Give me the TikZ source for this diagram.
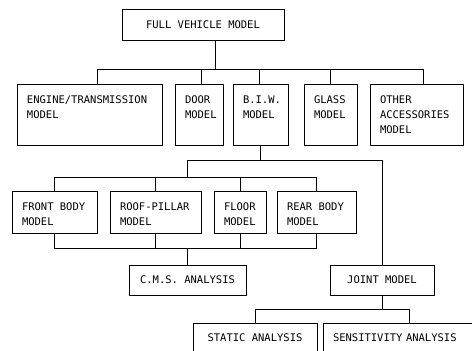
\documentclass[tikz,border=0pt]{standalone}
\usepackage{fontspec}
\newfontfamily\plotfont{DejaVu Sans Mono}
\usepackage{tikz}
\tikzstyle{block} = [
    rectangle,
    draw,
    line width=0.7pt,
    inner xsep=10pt,
    inner ysep=0pt,
    font=\plotfont\fontsize{10.5}{15}\selectfont,
]
\tikzstyle{title} = [
    block,
    inner xsep=0pt,
    align=center,
]
\tikzstyle{part} = [
    block,
]
\tikzstyle{link} = [line width=0.7pt, line cap=rect]
% text set from the top left corner of a part box
\newcommand{\partlabel}[3]{\parbox[c][#2][t]{#1}{\vspace*{12pt}\raggedright #3}}

\begin{document}
\begin{tikzpicture}[x=1pt, y=-1pt]
    \useasboundingbox (0,0) rectangle (472,351);

    % boxes
    \node (full) at (203, 24.5) [title, minimum width=162, minimum height=31] {FULL VEHICLE MODEL};

    \node (engine) at (89.5, 114.5) [part] {\partlabel{125pt}{61pt}{ENGINE/TRANSMISSION\\MODEL}};
    \node (door) at (199, 114.5) [part] {\partlabel{28pt}{61pt}{DOOR\\MODEL}};
    \node (biw) at (260.5, 114.5) [part] {\partlabel{35pt}{61pt}{B.I.W.\\MODEL}};
    \node (glass) at (330.5, 114.5) [part] {\partlabel{33pt}{61pt}{GLASS\\MODEL}};
    \node (other) at (416.5, 114.5) [part] {\partlabel{73pt}{61pt}{OTHER\\ACCESSORIES\\MODEL}};

    \node (front) at (54.5, 212) [part] {\partlabel{65pt}{42pt}{FRONT BODY\\MODEL}};
    \node (roof) at (155.5, 212) [part] {\partlabel{71pt}{42pt}{ROOF-PILLAR\\MODEL}};
    \node (floor) at (240, 212) [part] {\partlabel{32pt}{42pt}{FLOOR\\MODEL}};
    \node (rear) at (316.5, 212) [part] {\partlabel{59pt}{42pt}{REAR BODY\\MODEL}};

    \node (cms) at (187.5, 280) [title, minimum width=117, minimum height=30] {C.M.S. ANALYSIS};
    \node (joint) at (382, 280) [title, minimum width=104, minimum height=30] {JOINT MODEL};
    \node (static) at (255, 338) [title, minimum width=124, minimum height=30] {STATIC ANALYSIS};
    \node (sens) at (408, 338) [block, text width=150, align=left, minimum height=30] {SENSITIVITY ANALYSIS};

    % buses
    \coordinate (topbus) at (0, 69);
    \coordinate (midbus) at (0, 160);
    \coordinate (partbus) at (0, 177);
    \coordinate (lowbus) at (0, 248);
    \coordinate (anabus) at (0, 309);

    % lines
    \draw [link] ([xshift=12pt]full.south) to ([xshift=12pt]full.south |- topbus);
    \draw [link] ([xshift=7.5pt]engine.north |- topbus) to ([xshift=6.5pt]other.north |- topbus);
    \foreach \n/\dx in {engine/7.5, door/2, biw/-1.5, glass/0, other/6.5} {
        \draw [link] ([xshift=\dx pt]\n.north) to ([xshift=\dx pt]\n.north |- topbus);
    }

    \draw [link] (biw.south) to (biw.south |- midbus);
    \draw [link] (cms.north |- midbus) to (joint.north |- midbus);
    \draw [link] (cms.north |- midbus) to (cms.north |- partbus);
    \draw [link] (joint.north |- midbus) to (joint.north);

    \draw [link] (front.north |- partbus) to (rear.north |- partbus);
    \draw [link] (front.south |- lowbus) to (rear.south |- lowbus);
    \foreach \n in {front,roof,floor,rear} {
        \draw [link] (\n.north) to (\n.north |- partbus);
        \draw [link] (\n.south) to (\n.south |- lowbus);
    }
    \draw [link] (cms.north |- lowbus) to (cms.north);

    \draw [link] (joint.south) to (joint.south |- anabus);
    \draw [link] (static.north |- anabus) to ([xshift=1pt]sens.north |- anabus);
    \draw [link] (static.north) to (static.north |- anabus);
    \draw [link] ([xshift=1pt]sens.north) to ([xshift=1pt]sens.north |- anabus);

\end{tikzpicture}
\end{document}
